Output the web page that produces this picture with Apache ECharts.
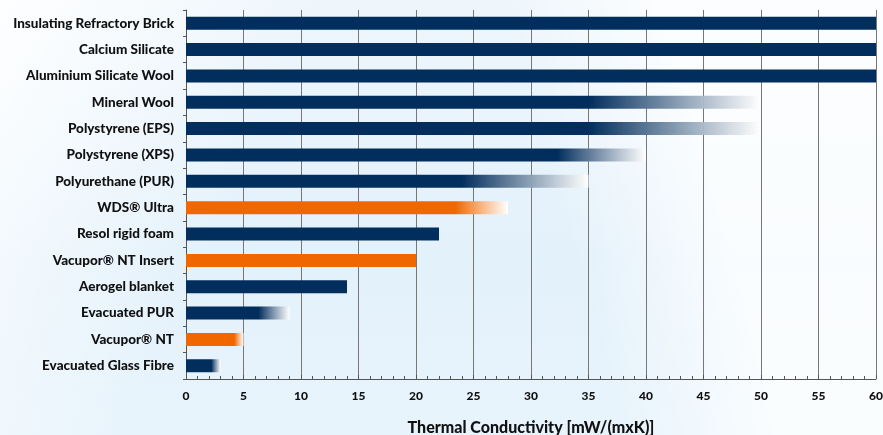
<!DOCTYPE html>
<html><head><meta charset="utf-8">
<script src="https://cdn.jsdelivr.net/npm/echarts@6/dist/echarts.min.js"></script>
<style>
html,body{margin:0;padding:0;}
#c{width:883px;height:435px;
background:
 linear-gradient(115deg, rgba(255,255,255,0.9) 0%, rgba(255,255,255,0) 30%),
 linear-gradient(75deg, rgba(255,255,255,0) 62%, rgba(255,255,255,0.8) 78%),
 linear-gradient(180deg,#eef6fc 0%,#e3f1fb 60%,#e8f4fc 100%);}
</style></head><body><div id="c"></div>
<script>
const categories = ['Insulating Refractory Brick','Calcium Silicate','Aluminium Silicate Wool','Mineral Wool','Polystyrene (EPS)','Polystyrene (XPS)','Polyurethane (PUR)','WDS® Ultra','Resol rigid foam','Vacupor® NT Insert','Aerogel blanket','Evacuated PUR','Vacupor® NT','Evacuated Glass Fibre'];
// lower bound (solid part) and upper bound (end of fade)
const lowValues  = [70, 70, 70, 35, 35, 32.3, 24, 23.4, 22, 20, 14, 6.3, 4.2, 2.2];
const highValues = [70, 70, 70, 50, 50, 40, 35, 28, 22, 20, 14, 9, 5, 3];
const highlight  = [false,false,false,false,false,false,false,true,false,true,false,false,true,false];
const xTicks = [0,5,10,15,20,25,30,35,40,45,50,55,60];

const NAVY = '#022e5d', ORANGE = '#f06700';
const data = highValues.map((h, i) => {
  const base = highlight[i] ? ORANGE : NAVY;
  const f = lowValues[i] / h;
  let color = base;
  if (f < 1) {
    color = new echarts.graphic.LinearGradient(0, 0, 1, 0, [
      {offset: 0, color: base},
      {offset: f, color: base},
      {offset: 1, color: 'rgba(255,255,255,0.95)'}
    ]);
  }
  return {value: h, itemStyle: {color}};
});

const FONT = 'Lato';
const chart = echarts.init(document.getElementById('c'));
chart.setOption({
  animation: false,
  grid: {left: 186, right: 7, top: 10, bottom: 56, containLabel: false, outerBoundsMode: 'none'},
  xAxis: {
    type: 'value', min: 0, max: 60, interval: 5,
    name: 'Thermal Conductivity [mW/(mxK)]', nameLocation: 'middle', nameGap: 41,
    nameTextStyle: {fontFamily: FONT, fontWeight: 900, fontSize: 16, color: '#111'},
    axisLine: {show: true, lineStyle: {color: '#555', width: 1}},
    axisTick: {show: true, inside: true, length: 4, lineStyle: {color: '#555'}},
    minorTick: {show: true, splitNumber: 5, length: 3, lineStyle: {color: '#555'}},
    axisLabel: {fontFamily: FONT, fontWeight: 900, fontSize: 12, color: '#111', margin: 11,
      formatter: v => xTicks.includes(v) ? String(v) : ''},
    splitLine: {show: true, lineStyle: {color: '#777', width: 1}}
  },
  yAxis: {
    type: 'category', data: categories, inverse: true,
    axisLine: {show: true, lineStyle: {color: '#555', width: 1}},
    axisTick: {show: true, length: 3, lineStyle: {color: '#555'}},
    axisLabel: {fontFamily: FONT, fontWeight: 900, fontSize: 13.5, color: '#111', margin: 12}
  },
  series: [{
    type: 'bar', data: data, barWidth: 13, clip: true
  }]
});
</script></body></html>
